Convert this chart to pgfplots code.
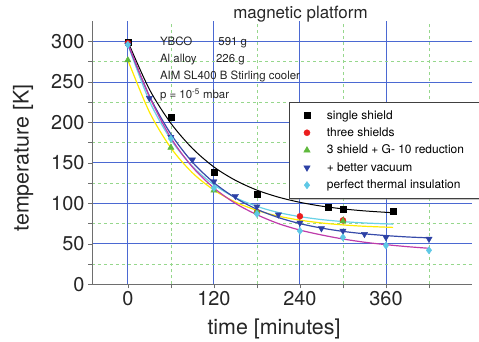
\documentclass[border=0pt]{standalone}
\usepackage{pgfplots}
\pgfplotsset{compat=1.18}
\usepackage{fontspec}
\setmainfont{TeX Gyre Heros}
\usetikzlibrary{shadows}
\definecolor{gridblue}{RGB}{75,105,210}
\definecolor{gridgreen}{RGB}{150,215,140}
\definecolor{axgray}{RGB}{110,110,110}
\definecolor{mred}{RGB}{235,30,30}
\definecolor{mgreen}{RGB}{95,185,60}
\definecolor{mblue}{RGB}{45,65,165}
\definecolor{mcyan}{RGB}{95,200,230}
\definecolor{lyellow}{RGB}{255,235,0}
\definecolor{lcyan}{RGB}{105,210,230}
\definecolor{lblue}{RGB}{55,75,170}
\definecolor{lmag}{RGB}{190,60,170}
\begin{document}
\begin{tikzpicture}
\useasboundingbox (0,0) rectangle (479bp,342bp);
\begin{axis}[
  at={(92bp,57.7bp)}, anchor=south west,
  scale only axis, width=380bp, height=263bp,
  xmin=-50, xmax=480, ymin=0, ymax=325,
  axis x line*=bottom, axis y line*=left,
  axis line style={axgray, line width=0.8bp, -},
  xtick={0,120,240,360}, minor xtick={60,180,300,420},
  ytick={0,50,100,150,200,250,300}, minor ytick={25,75,125,175,225,275},
  xmajorgrids, ymajorgrids, xminorgrids, yminorgrids,
  major grid style={gridblue, line width=0.9bp},
  minor grid style={gridgreen, dashed, line width=0.6bp},
  tick align=outside, tick style={axgray, line width=0.6bp},
  major tick length=4bp, minor tick length=4bp,
  tick label style={font=\fontsize{20}{20}\selectfont, text=black!85},
  /pgf/number format/assume math mode=true,
  legend style={at={(0.519,0.694)}, anchor=north west,
    draw=black!75, line width=0.5bp, fill=white,
    drop shadow={shadow xshift=1.5bp, shadow yshift=-1.5bp, fill=black!45},
    font=\fontsize{12}{12}\selectfont,
    inner xsep=14.4bp, inner ysep=6bp, row sep=3bp,
    cells={inner sep=0pt, text height=9bp, text depth=3bp},
    /tikz/every odd column/.append style={column sep=14.8bp}},
  legend cell align=left,
]
% fitted curves
\addplot[black, line width=1bp, smooth, forget plot] coordinates {
(0,300) (30,241) (60,199) (90,168) (120,145) (150,128.5) (180,116.4) (210,107.7)
(240,101.3) (270,96.6) (300,93.2) (330,90.7) (368,88.5)};
\addplot[lyellow, line width=1.2bp, smooth, forget plot] coordinates {
(0,277) (30,213) (60,168.6) (90,137.8) (120,116.5) (150,101.6) (180,91.4) (210,84.2)
(240,79.3) (270,75.8) (300,73.4) (330,71.7) (370,70.3)};
\addplot[lcyan, line width=1.2bp, smooth, forget plot] coordinates {
(0,296) (30,226.6) (60,178.8) (90,145.7) (120,123) (150,107.2) (180,96.3) (210,88.7)
(240,83.6) (270,80) (300,77.5) (330,75.8) (370,74.3)};
\addplot[lblue, line width=1.2bp, smooth, forget plot] coordinates {
(0,297) (30,232.9) (60,185.7) (90,151) (120,125.6) (150,106.7) (180,92.7) (210,82.5)
(240,75) (270,69.5) (300,65.4) (330,62.4) (360,60.2) (390,58.5) (420,57.4)};
\addplot[lmag, line width=1.2bp, smooth, forget plot] coordinates {
(0,298) (30,232) (60,181) (90,145) (120,119) (150,100) (180,86) (210,75)
(240,67) (270,61) (300,56) (330,52) (360,49) (390,46.5) (420,44.5)};
% data
\addplot[only marks, mark=square*, mark size=3bp, black] coordinates {
(0,299) (60,207) (120,138) (180,111) (280,95) (300,93) (370,90)};
\addlegendentry{single shield}
\addplot[only marks, mark=*, mark size=3bp, mred] coordinates {
(0,298) (180,89) (240,84) (300,79)};
\addlegendentry{three shields}
\addplot[only marks, mark=triangle*, mark size=3.6bp, mgreen] coordinates {
(0,277) (60,169) (120,116) (180,90) (300,78)};
\addlegendentry{3 shield + G- 10 reduction}
\addplot[only marks, mark=triangle*, mark options={rotate=180}, mark size=3.6bp, mblue] coordinates {
(0,296) (30,230) (60,182) (90,154) (120,127) (150,109) (180,96) (210,86) (240,76)
(270,69) (300,66) (330,62) (360,58) (420,56)};
\addlegendentry{+ better vacuum}
\addplot[only marks, mark=diamond*, mark size=3.6bp, mcyan] coordinates {
(0,296) (60,180) (120,119) (180,87) (240,66) (300,58) (360,48) (420,42)};
\addlegendentry{perfect thermal insulation\hspace{20bp}}
% annotations
\begin{scope}[every node/.style={font=\fontsize{11.5}{12}\selectfont, text=black!85, anchor=base west, inner sep=0pt}]
\node at (axis cs:44.6,294.6) {YBCO};
\node at (axis cs:126,294.6) {591 g};
\node at (axis cs:44.6,274) {Al alloy};
\node at (axis cs:122.8,274) {226 g};
\node at (axis cs:44.6,253.4) {AIM SL400 B Stirling cooler};
\node at (axis cs:44.6,229) {p = 10\textsuperscript{-5} mbar};
\end{scope}
\end{axis}
\node[anchor=base, font=\fontsize{17}{17}\selectfont, text=black!85] at (300.5bp,323bp) {magnetic platform};
\node[anchor=base, font=\fontsize{21.5}{21.5}\selectfont, text=black!85] at (274bp,8bp) {time [minutes]};
\node[anchor=base, rotate=90, font=\fontsize{21.5}{21.5}\selectfont, text=black!85] at (28.7bp,184bp) {temperature [K]};
\end{tikzpicture}
\end{document}
